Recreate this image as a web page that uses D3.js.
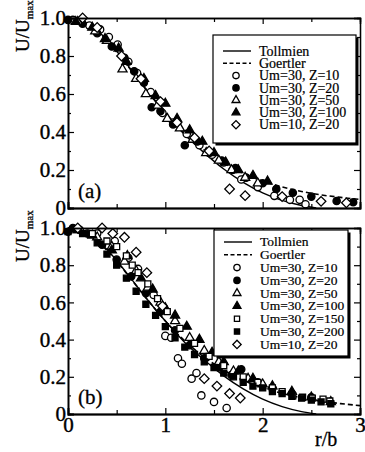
<!DOCTYPE html>
<html>
<head>
<meta charset="utf-8">
<script src="https://cdnjs.cloudflare.com/ajax/libs/d3/7.8.5/d3.min.js"></script>
<style>
  body { margin: 0; background: #fff; }
  text { font-family: "Liberation Serif", "DejaVu Serif", serif; fill: #000; }
</style>
</head>
<body>
<script>
// profile curves
let curveX    = [0, 0.2, 0.4, 0.6, 0.8, 1.0, 1.2, 1.4, 1.6, 1.8, 2.0, 2.2, 2.4, 2.6, 2.8, 3.0];
let goertlerU = [1, 0.968, 0.88, 0.757, 0.625, 0.5, 0.393, 0.305, 0.236, 0.182, 0.142, 0.111, 0.087, 0.069, 0.056, 0.045];
let tollmienX = [0, 0.2, 0.4, 0.6, 0.8, 1.0, 1.2, 1.4, 1.6, 1.8, 2.0, 2.2, 2.4, 2.55];
let tollmienU = [1, 0.97, 0.885, 0.76, 0.625, 0.5, 0.385, 0.29, 0.205, 0.135, 0.08, 0.04, 0.013, 0];

// panel (a) measurements, [r/b, U/Umax]
let a_z10 = [[0.05,0.99],[0.22,0.96],[0.33,0.94],[0.42,0.9],[0.51,0.86],[0.62,0.77],[0.71,0.71],[0.85,0.61],[0.97,0.5],[1.08,0.45],[1.22,0.39],[1.35,0.33],[1.48,0.28],[1.6,0.24],[1.69,0.2],[1.78,0.15],[1.95,0.11],[2.12,0.064],[2.28,0.043],[2.38,0.043],[2.44,0.02]];
let a_z20 = [[0.0,0.99],[0.15,0.97],[0.3,0.92],[0.45,0.85],[0.58,0.79],[0.68,0.72],[0.78,0.66],[0.86,0.53],[0.95,0.51],[1.08,0.44],[1.2,0.33],[1.33,0.35],[1.45,0.29],[1.58,0.25],[1.72,0.21],[1.83,0.16],[2.0,0.13],[2.14,0.1],[2.31,0.08],[2.5,0.06],[2.76,0.037],[2.93,0.03]];
let a_z50 = [[0.1,0.98],[0.28,0.93],[0.4,0.88],[0.56,0.73],[0.7,0.68],[0.8,0.6],[0.92,0.54],[1.02,0.47],[1.15,0.42],[1.28,0.36],[1.42,0.29],[1.55,0.25],[1.68,0.2],[1.82,0.16],[1.95,0.13]];
let a_z100 = [[0.08,0.98],[0.25,0.95],[0.38,0.89],[0.52,0.84],[0.6,0.77],[0.78,0.68],[0.9,0.59],[1.0,0.55],[1.12,0.47],[1.25,0.41],[1.38,0.35],[1.5,0.29],[1.62,0.24],[1.75,0.2],[1.9,0.17],[2.05,0.14]];
let a_um10 = [[0.15,1.0],[0.3,0.95],[0.55,0.8],[0.75,0.68],[0.95,0.56],[1.12,0.45],[1.3,0.37],[1.45,0.3],[1.66,0.1],[1.82,0.065],[2.2,0.06],[2.6,0.035],[2.86,0.027]];

// panel (b) measurements
let b_z10 = [[0.0,0.98],[0.12,0.99],[0.3,0.97],[0.48,0.93],[0.62,0.84],[0.72,0.78],[0.88,0.64],[1.0,0.42],[1.06,0.41],[1.13,0.3],[1.17,0.27],[1.27,0.19],[1.32,0.22],[1.37,0.1],[1.5,0.065],[1.63,0.032]];
let b_z20 = [[0.05,1.0],[0.2,0.97],[0.35,0.91],[0.5,0.83],[0.65,0.74],[0.8,0.65],[0.95,0.55],[1.1,0.45],[1.25,0.37],[1.4,0.3],[1.55,0.25],[1.68,0.21],[1.78,0.24],[1.95,0.17],[2.1,0.14],[2.3,0.11],[2.5,0.09]];
let b_z50 = [[0.1,0.99],[0.3,0.95],[0.45,0.9],[0.58,0.82],[0.7,0.77],[0.82,0.68],[0.95,0.6],[1.1,0.5],[1.25,0.41],[1.4,0.34],[1.55,0.28],[1.7,0.23],[1.85,0.19],[2.0,0.16]];
let b_z100 = [[0.1,0.99],[0.25,0.96],[0.45,0.88],[0.61,0.85],[0.75,0.73],[0.87,0.67],[1.0,0.57],[1.1,0.53],[1.22,0.47],[1.35,0.4],[1.48,0.33],[1.6,0.28],[1.75,0.23],[1.9,0.19],[2.1,0.15],[2.3,0.12],[2.5,0.09],[2.7,0.065]];
let b_z150 = [[0.25,0.97],[0.4,0.93],[0.5,0.9],[0.6,0.85],[0.66,0.8],[0.72,0.76],[0.82,0.7],[0.92,0.62],[1.02,0.55],[1.15,0.46],[1.3,0.38],[1.45,0.31],[1.6,0.26],[1.8,0.2],[1.95,0.17],[2.1,0.14],[2.2,0.12],[2.31,0.097],[2.41,0.09],[2.51,0.085],[2.62,0.08],[2.69,0.07]];
let b_z200 = [[0.0,0.98],[0.15,0.97],[0.3,0.92],[0.4,0.86],[0.5,0.8],[0.6,0.73],[0.7,0.66],[0.8,0.59],[0.9,0.53],[1.0,0.47],[1.1,0.41],[1.2,0.36],[1.3,0.32],[1.4,0.28],[1.5,0.25],[1.6,0.22],[1.7,0.2],[1.8,0.17],[1.9,0.15],[2.0,0.14],[2.1,0.12],[2.2,0.11],[2.3,0.095],[2.4,0.085],[2.5,0.075],[2.6,0.065],[2.7,0.055]];
let b_um10 = [[0.1,1.0],[0.35,1.0],[0.46,0.97],[0.58,0.95],[0.7,0.87],[0.81,0.76],[0.97,0.58],[1.4,0.19],[1.53,0.15],[1.66,0.11],[1.77,0.086]];

let xTicks = [0, 1, 2, 3];
let yTicks = [0, 0.2, 0.4, 0.6, 0.8, 1.0];

let svg = d3.select("body").append("svg")
    .attr("width", 365)
    .attr("height", 452);

svg.append("rect").attr("width", 365).attr("height", 452).attr("fill", "#fff");

let x = d3.scaleLinear().domain([0, 3]).range([68, 360]);

// marker shapes
let markers = {
    circleOpen:   {type: d3.symbolCircle,   size: 42, fill: "#fff", rot: 0},
    circleFill:   {type: d3.symbolCircle,   size: 42, fill: "#000", rot: 0},
    triOpen:      {type: d3.symbolTriangle, size: 36, fill: "#fff", rot: 0},
    triFill:      {type: d3.symbolTriangle, size: 36, fill: "#000", rot: 0},
    squareOpen:   {type: d3.symbolSquare,   size: 36, fill: "#fff", rot: 0},
    squareFill:   {type: d3.symbolSquare,   size: 36, fill: "#000", rot: 0},
    diamond:      {type: d3.symbolSquare,   size: 46, fill: "#fff", rot: 45}
};

function drawPanel(opt) {
    let y = d3.scaleLinear().domain([0, 1]).range([opt.bottom, opt.top]);
    let g = svg.append("g");

    // curves
    let line = d3.line()
        .x(d => x(d[0]))
        .y(d => y(d[1]))
        .curve(d3.curveMonotoneX);

    g.append("path")
        .datum(d3.zip(tollmienX, tollmienU))
        .attr("d", line)
        .attr("fill", "none")
        .attr("stroke", "#000")
        .attr("stroke-width", 1.4);

    g.append("path")
        .datum(d3.zip(curveX, goertlerU))
        .attr("d", line)
        .attr("fill", "none")
        .attr("stroke", "#000")
        .attr("stroke-width", 1.6)
        .attr("stroke-dasharray", "5,3");

    // points
    opt.series.forEach(s => {
        let m = markers[s.marker];
        g.append("g").selectAll("path")
            .data(s.data)
            .enter()
            .append("path")
                .attr("d", d3.symbol().type(m.type).size(m.size))
                .attr("transform", d => `translate(${x(d[0])},${y(d[1])}) rotate(${m.rot})`)
                .attr("fill", m.fill)
                .attr("stroke", "#000")
                .attr("stroke-width", 1.3);
    });

    // frame and ticks
    let fmtY = d => d === 0 ? "0" : d3.format(".1f")(d);
    let minorY = d3.range(1, 10, 2).map(d => d / 10);
    let minorX = [0.5, 1.5, 2.5];

    let left = g.append("g")
        .attr("transform", `translate(${x(0)},0)`)
        .call(d3.axisLeft(y).tickValues(yTicks).tickFormat(fmtY).tickSize(-6).tickPadding(2));
    left.append("g").call(d3.axisLeft(y).tickValues(minorY).tickFormat("").tickSize(-3));

    let right = g.append("g")
        .attr("transform", `translate(${x(3)},0)`)
        .call(d3.axisRight(y).tickValues(yTicks).tickFormat("").tickSize(-6));
    right.append("g").call(d3.axisRight(y).tickValues(minorY).tickFormat("").tickSize(-3));

    let bottom = g.append("g")
        .attr("transform", `translate(0,${opt.bottom})`)
        .call(d3.axisBottom(x).tickValues(xTicks).tickFormat(opt.xLabels ? d3.format("d") : "").tickSize(-6).tickPadding(3));
    bottom.append("g").call(d3.axisBottom(x).tickValues(minorX).tickFormat("").tickSize(-4));

    let topAx = g.append("g")
        .attr("transform", `translate(0,${opt.top})`)
        .call(d3.axisTop(x).tickValues(xTicks).tickFormat("").tickSize(-6));
    topAx.append("g").call(d3.axisTop(x).tickValues(minorX).tickFormat("").tickSize(-4));

    g.selectAll(".domain").attr("stroke", "#000").attr("stroke-width", 1.3);
    g.selectAll(".tick line").attr("stroke", "#000").attr("stroke-width", 1.2);
    g.selectAll(".tick text")
        .style("font-family", "'Liberation Serif', serif")
        .style("font-size", "21px")
        .attr("fill", "#000")
        .attr("stroke", "#000")
        .attr("stroke-width", 0.4);
    left.select(".domain").attr("stroke-width", 1.8);
    bottom.select(".domain").attr("stroke-width", 1.8);

    // panel label
    g.append("text")
        .attr("x", 78)
        .attr("y", opt.bottom - 10)
        .style("font-size", "21px")
        .attr("stroke", "#000")
        .attr("stroke-width", 0.3)
        .text(opt.label);

    // y title
    let yt = g.append("text")
        .attr("transform", `translate(29,${opt.top + 34}) rotate(-90)`)
        .style("font-size", "19px")
        .attr("stroke", "#000")
        .attr("stroke-width", 0.3);
    yt.append("tspan").text("U/U");
    yt.append("tspan").attr("dy", 4).style("font-size", "11px").text("max");

    // legend
    let lg = opt.legend;
    g.append("rect")
        .attr("x", lg.x + 2.5).attr("y", lg.y + 2.5)
        .attr("width", lg.w).attr("height", lg.h)
        .attr("fill", "#000");
    g.append("rect")
        .attr("x", lg.x).attr("y", lg.y)
        .attr("width", lg.w).attr("height", lg.h)
        .attr("fill", "#fff")
        .attr("stroke", "#000")
        .attr("stroke-width", 1.2);

    let rows = [{name: "Tollmien", line: "solid"}, {name: "Goertler", line: "dash"}]
        .concat(opt.series.map(s => ({name: s.name, marker: s.marker})));

    let item = g.selectAll(null)
        .data(rows)
        .enter()
        .append("g")
        .attr("transform", (d, i) => `translate(${lg.x}, ${lg.y + lg.first + i * lg.step})`);

    item.filter(d => d.line)
        .append("line")
        .attr("x1", 10).attr("x2", 38)
        .attr("stroke", "#000")
        .attr("stroke-width", 1.4)
        .attr("stroke-dasharray", d => d.line === "dash" ? "4,2.5" : null);

    item.filter(d => d.marker)
        .append("path")
        .attr("d", d => d3.symbol().type(markers[d.marker].type).size(markers[d.marker].size * 0.75)())
        .attr("transform", d => `translate(23,0) rotate(${markers[d.marker].rot})`)
        .attr("fill", d => markers[d.marker].fill)
        .attr("stroke", "#000")
        .attr("stroke-width", 1.3);

    item.append("text")
        .attr("x", 46)
        .attr("dy", "0.33em")
        .style("font-size", lg.font + "px")
        .attr("stroke", "#000")
        .attr("stroke-width", 0.2)
        .text(d => d.name);
}

drawPanel({
    top: 18, bottom: 208, label: "(a)", xLabels: false,
    legend: {x: 213, y: 35, w: 143, h: 108, first: 16, step: 12.3, font: 14},
    series: [
        {name: "Um=30, Z=10",  marker: "circleOpen", data: a_z10},
        {name: "Um=30, Z=20",  marker: "circleFill", data: a_z20},
        {name: "Um=30, Z=50",  marker: "triOpen",    data: a_z50},
        {name: "Um=30, Z=100", marker: "triFill",    data: a_z100},
        {name: "Um=10, Z=20",  marker: "diamond",    data: a_um10}
    ]
});

drawPanel({
    top: 228, bottom: 414, label: "(b)", xLabels: true,
    legend: {x: 214, y: 230, w: 134, h: 126, first: 12, step: 12.8, font: 13.5},
    series: [
        {name: "Um=30, Z=10",  marker: "circleOpen", data: b_z10},
        {name: "Um=30, Z=20",  marker: "circleFill", data: b_z20},
        {name: "Um=30, Z=50",  marker: "triOpen",    data: b_z50},
        {name: "Um=30, Z=100", marker: "triFill",    data: b_z100},
        {name: "Um=30, Z=150", marker: "squareOpen", data: b_z150},
        {name: "Um=30, Z=200", marker: "squareFill", data: b_z200},
        {name: "Um=10, Z=20",  marker: "diamond",    data: b_um10}
    ]
});

svg.append("text")
    .attr("x", 315)
    .attr("y", 446)
    .style("font-size", "20px")
    .attr("stroke", "#000")
    .attr("stroke-width", 0.3)
    .text("r/b");
</script>
</body>
</html>
